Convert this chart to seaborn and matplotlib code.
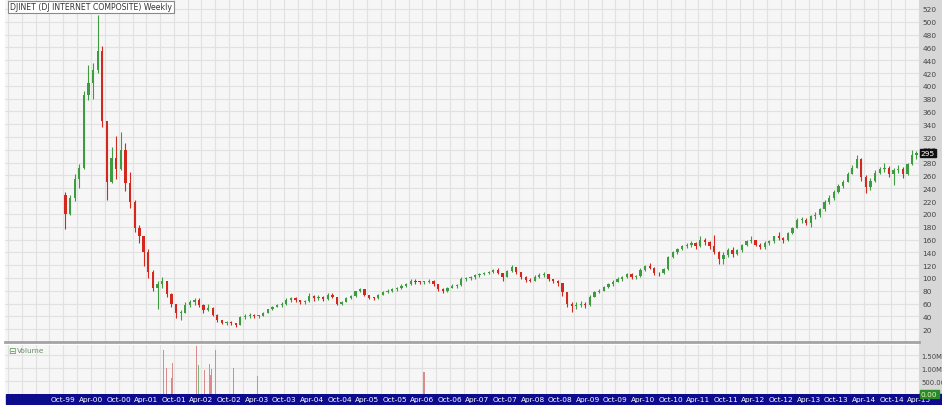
import numpy as np
import pandas as pd
import matplotlib
matplotlib.use("Agg")
import matplotlib.pyplot as plt
import matplotlib.dates as mdates
import matplotlib.ticker as mticker
from matplotlib.patches import Rectangle
import seaborn as sns

# Monthly candles (Oct-1999 .. Mar-2015)
start_month = "1999-10-01"
first_open = 230
highs = [234, 230, 262, 278, 392, 432, 435, 510, 462, 340, 305, 322, 328, 310, 265, 222,
         182, 160, 145, 112, 95, 102, 96, 76, 60, 50, 62, 66, 68, 68, 60, 59,
         54, 43, 35, 33, 33, 30, 41, 43, 45, 43, 42, 47, 52, 56, 60, 63,
         68, 71, 70, 66, 66, 76, 74, 74, 72, 76, 76, 70, 64, 70, 74, 80,
         85, 82, 74, 70, 75, 80, 83, 84, 86, 90, 92, 98, 98, 96, 96, 98,
         97, 90, 84, 86, 90, 91, 101, 102, 103, 106, 108, 110, 111, 114, 115, 108,
         113, 120, 117, 110, 103, 100, 104, 107, 110, 106, 99, 97, 92, 78, 62, 62,
         64, 62, 73, 80, 82, 88, 92, 97, 101, 103, 108, 108, 104, 115, 120, 123,
         117, 110, 116, 135, 142, 147, 152, 155, 158, 156, 165, 162, 158, 167, 142, 140,
         147, 149, 145, 153, 160, 166, 160, 155, 157, 160, 166, 171, 164, 172, 180, 194,
         195, 194, 198, 203, 210, 222, 229, 238, 247, 253, 265, 276, 292, 288, 260, 256,
         268, 274, 280, 275, 272, 276, 274, 280, 300, 298]
lows = [176, 198, 220, 240, 270, 378, 380, 420, 336, 222, 248, 254, 268, 236, 210, 172,
        155, 119, 100, 80, 52, 85, 70, 55, 38, 35, 45, 55, 58, 55, 46, 48,
        40, 32, 28, 27, 27, 24, 26, 36, 38, 38, 38, 40, 45, 50, 54, 55,
        58, 63, 62, 59, 60, 63, 64, 66, 64, 66, 68, 57, 58, 62, 67, 71,
        78, 72, 67, 65, 67, 73, 77, 78, 80, 82, 86, 89, 91, 90, 90, 92,
        88, 80, 77, 78, 84, 85, 88, 96, 97, 99, 102, 104, 106, 108, 106, 96,
        102, 110, 106, 98, 94, 93, 95, 100, 102, 95, 92, 88, 72, 55, 47, 52,
        55, 53, 56, 70, 76, 79, 84, 88, 93, 96, 100, 99, 98, 102, 111, 114,
        105, 103, 106, 113, 131, 138, 144, 147, 148, 146, 148, 152, 145, 138, 122, 122,
        132, 133, 136, 141, 150, 155, 150, 146, 146, 152, 155, 160, 155, 158, 168, 178,
        186, 183, 180, 192, 195, 205, 215, 222, 232, 240, 250, 262, 272, 252, 233, 238,
        250, 262, 266, 258, 245, 264, 256, 260, 276, 286]
closes = [200, 225, 255, 272, 385, 405, 425, 455, 345, 250, 288, 270, 300, 248, 218, 178,
          165, 140, 110, 85, 90, 95, 75, 60, 45, 46, 58, 63, 66, 58, 50, 53,
          42, 34, 30, 30, 29, 27, 39, 40, 42, 40, 41, 46, 51, 55, 58, 60,
          66, 68, 65, 62, 64, 72, 68, 70, 67, 74, 70, 60, 63, 68, 72, 79,
          82, 74, 69, 68, 74, 78, 80, 82, 84, 88, 91, 96, 94, 93, 94, 96,
          90, 83, 80, 85, 88, 89, 99, 100, 101, 104, 106, 108, 110, 113, 108, 102,
          111, 117, 109, 102, 97, 96, 102, 105, 106, 98, 95, 92, 78, 60, 56, 58,
          60, 58, 71, 78, 80, 86, 90, 94, 98, 101, 106, 102, 103, 113, 118, 116,
          108, 107, 114, 133, 140, 146, 150, 151, 155, 150, 160, 156, 150, 140, 130, 136,
          144, 138, 143, 152, 158, 160, 152, 149, 155, 157, 165, 162, 160, 170, 178, 190,
          190, 186, 196, 198, 208, 218, 225, 234, 243, 250, 262, 272, 285, 258, 242, 252,
          264, 270, 272, 262, 268, 270, 262, 278, 292, 295]

# Volume spikes (only a handful of weeks show any volume)
vol_dates = ["2001-07-27", "2001-08-15", "2001-09-14", "2001-09-21", "2002-03-03",
             "2002-03-16", "2002-04-25", "2002-05-22", "2002-05-29", "2002-06-10",
             "2002-07-01", "2002-10-28", "2003-04-10", "2006-04-13"]
vol_values = [1.72e6, 1.01e6, 0.62e6, 1.21e6, 1.88e6, 1.13e6, 0.93e6, 1.17e6, 0.74e6,
              0.97e6, 1.72e6, 1.01e6, 0.70e6, 0.85e6]
vol_up = [False, False, True, False, False, True, False, False, False, False, False,
          True, False, False]

price_ticks = list(range(20, 521, 20))
vol_ticks = [0.5e6, 1.0e6, 1.5e6]
vol_tick_labels = ["500.00K", "1.00M", "1.50M"]
last_price = 295
title = "DJINET (DJ INTERNET COMPOSITE) Weekly"
first_label = pd.Timestamp("1999-09-01")

GREEN = "#3f9b3f"
RED = "#d2281e"

sns.set_style("whitegrid", {"axes.facecolor": "#f6f6f6", "grid.color": "#e1e1e1"})
plt.rcParams["font.family"] = ["DejaVu Sans"]

df = pd.DataFrame({
    "date": pd.date_range(start_month, periods=len(closes), freq="MS") + pd.Timedelta(days=14),
    "high": highs, "low": lows, "close": closes,
})
df["open"] = [first_open] + closes[:-1]
df["up"] = df["close"] >= df["open"]
colors = np.where(df["up"], GREEN, RED)

W, H = 942, 406
fig = plt.figure(figsize=(W / 100, H / 100), dpi=100)
fig.patch.set_facecolor("white")


def box(x0, y0, x1, y1):
    # pixel box -> figure fraction rect
    return [x0 / W, 1 - y1 / H, (x1 - x0) / W, (y1 - y0) / H]


# grey price-scale strip and navy date band (behind the axes)
fig.patches.append(Rectangle((919 / W, 11 / H), 1, 1, transform=fig.transFigure,
                             color="#d7d7d7", zorder=-2))
fig.patches.append(Rectangle((6 / W, 1 / H), 1, 10 / H, transform=fig.transFigure,
                             color="#0c0c8c", zorder=-2))

ax = fig.add_axes(box(5, 0, 919, 343))
axv = fig.add_axes(box(5, 346, 919, 395), sharex=ax)

# candles
ax.vlines(df["date"], df["low"], df["high"], color=colors, linewidth=0.8, zorder=3)
body = (df["close"] - df["open"]).abs().clip(lower=1.5)
ax.bar(df["date"], body, bottom=np.minimum(df["open"], df["close"]), width=15,
       color=colors, linewidth=0, zorder=3)

ax.set_xlim(pd.Timestamp("1998-09-10"), pd.Timestamp("2015-04-01"))
ax.set_ylim(0, 535.6)
ax.set_yticks(price_ticks)
ax.yaxis.tick_right()
ax.tick_params(axis="y", length=0, pad=2.5, labelsize=5.3, labelcolor="#444444")
ax.tick_params(axis="x", labelbottom=False, length=0)
for ax_ in (ax, axv):
    ax_.set_axisbelow(True)
    ax_.xaxis.set_major_locator(mdates.MonthLocator(bymonth=[4, 10]))
    ax_.xaxis.set_minor_locator(mdates.MonthLocator(bymonth=[1, 7]))
    ax_.grid(True, which="both", axis="x", color="#e1e1e1", linewidth=0.8)
    ax_.grid(True, which="major", axis="y", color="#e1e1e1", linewidth=0.8)
    for s in ax_.spines.values():
        s.set_visible(False)
ax.spines["bottom"].set_visible(True)
ax.spines["bottom"].set_color("#a3a3a3")
ax.spines["bottom"].set_linewidth(2)

ax.text(5 / 914, 1 - 3.5 / 343, title, transform=ax.transAxes, fontsize=5.6,
        color="#333333", va="top", ha="left", zorder=5,
        bbox=dict(boxstyle="square,pad=0.25", fc="white", ec="#8a8a8a", lw=0.8))

ax.text(1.002, last_price, str(last_price), transform=ax.get_yaxis_transform(),
        fontsize=5.3, color="white", va="center", ha="left", clip_on=False, zorder=6,
        bbox=dict(boxstyle="square,pad=0.15", fc="#111111", ec="#111111"))

# volume panel
vcol = ["#7fb87f" if u else "#d98c8c" for u in vol_up]
axv.bar(pd.to_datetime(vol_dates), vol_values, width=7, color=vcol, linewidth=0, zorder=3)
axv.set_ylim(0, 1.9e6)
axv.set_yticks(vol_ticks)
axv.set_yticklabels(vol_tick_labels)
axv.yaxis.tick_right()
axv.tick_params(axis="y", length=0, pad=1.5, labelsize=4.9, labelcolor="#444444")


def date_label(x, pos):
    d = mdates.num2date(x).replace(tzinfo=None)
    return d.strftime("%b-%y") if d >= first_label else ""


axv.xaxis.set_major_formatter(mticker.FuncFormatter(date_label))
axv.tick_params(axis="x", length=0, pad=1.2, labelsize=5.3, labelcolor="white")
axv.text(0.003, 0.97, "\u229f", transform=axv.transAxes, fontsize=6.5, color="#4c9a4c",
         va="top", ha="left")
axv.text(0.013, 0.95, "Volume", transform=axv.transAxes, fontsize=5.3, color="#6a8f6a",
         va="top", ha="left")
axv.text(1.002, 0, "0.00", transform=axv.get_yaxis_transform(), fontsize=5.3,
         color="#e8f5c0", va="center", ha="left", clip_on=False, zorder=6,
         bbox=dict(boxstyle="square,pad=0.15", fc="#2a8a2a", ec="#2a8a2a"))

fig.savefig("out.png", dpi=100, facecolor=fig.get_facecolor())
